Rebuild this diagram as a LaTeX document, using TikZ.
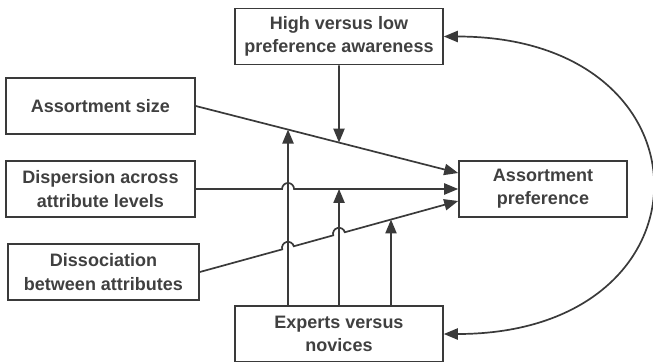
\documentclass[tikz,border=0pt]{standalone}
\usepackage{fontspec}
\setmainfont{Liberation Sans}
\usetikzlibrary{arrows.meta,calc}
\definecolor{linegray}{HTML}{3A3A3A}
\definecolor{textgray}{HTML}{404040}
\tikzset{
  box/.style={draw=linegray,line width=0.8pt,minimum height=28pt,inner sep=0pt,
    align=center,text=textgray,font=\fontsize{9}{11.6}\selectfont\bfseries},
  link/.style={draw=linegray,line width=0.85pt}
}
\begin{document}
\begin{tikzpicture}[x=0.5pt,y=0.5pt,>={Triangle[length=7pt,width=5.6pt]}]
		\useasboundingbox (0,0) rectangle (653,361);
		
		% Define main boxes
		\node[box,minimum width=104pt] (high) at (339,324.5) {High versus low\\preference awareness};
		\node[box,minimum width=94.5pt] (size) at (100.5,255) {Assortment size};
		\node[box,minimum width=94.5pt] (disp) at (100.5,172) {Dispersion across\\attribute levels};
		\node[box,minimum width=95.5pt] (diss) at (103.5,89) {Dissociation\\between attributes};
		\node[box,minimum width=84pt] (pref) at (543,172) {Assortment\\preference};
		\node[box,minimum width=104pt] (exp) at (339,27) {Experts versus\\novices};
		
		% Entry points on the outcome box
		\coordinate (in1) at ($(pref.west)+(0,16)$);
		\coordinate (in3) at ($(pref.west)+(0,-12)$);
		
		% Feet of the moderator arrows
		\coordinate (m1) at ($(exp.north)+(-51,0)$);
		\coordinate (m2) at (exp.north);
		\coordinate (m3) at ($(exp.north)+(52,0)$);
		\coordinate (m1u) at ($(m1)+(0,300)$);
		\coordinate (m2u) at ($(m2)+(0,300)$);
		\coordinate (m3u) at ($(m3)+(0,300)$);
		
		% Crossings and arrow ends
		\coordinate (t0) at (intersection of size.east--in1 and high.south--m2);
		\coordinate (t1) at (intersection of size.east--in1 and m1--m1u);
		\coordinate (t2) at (intersection of disp.east--pref.west and m2--m2u);
		\coordinate (t3) at (intersection of diss.east--in3 and m3--m3u);
		\coordinate (c1) at (intersection of disp.east--pref.west and m1--m1u);
		\coordinate (c2) at (intersection of diss.east--in3 and m1--m1u);
		\coordinate (c3) at (intersection of diss.east--in3 and m2--m2u);
		
		% Draw the main effects, with jumps over the moderator lines
		\draw[link,->] (size.east) -- (in1);
		\draw[link,->] (disp.east) -- ($(c1)+(-6,0)$) arc[start angle=180,end angle=0,radius=3pt] -- (pref.west);
		\draw[link,->] (diss.east) -- ($(c2)!3pt!(diss.east)$) arc[start angle=195,end angle=15,radius=3pt]
			-- ($(c3)!3pt!(diss.east)$) arc[start angle=195,end angle=15,radius=3pt] -- (in3);
		
		% Draw the moderators
		\draw[link,->] (high.south) -- (t0);
		\draw[link,->] (m1) -- (t1);
		\draw[link,->] (m2) -- (t2);
		\draw[link,->] (m3) -- (t3);
		
		% Link between the two moderators
		\draw[link,<->] (high.east) .. controls +(276,0) and +(276,0) .. (exp.east);
		
\end{tikzpicture}
\end{document}
